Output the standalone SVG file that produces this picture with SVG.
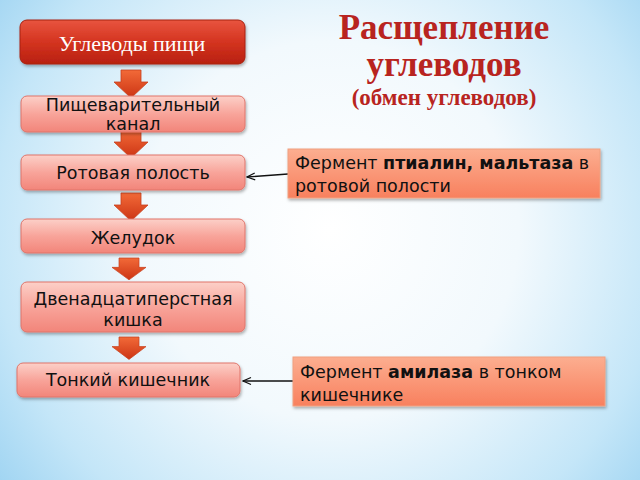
<svg xmlns="http://www.w3.org/2000/svg" width="640" height="480" viewBox="0 0 640 480">
<defs>
<radialGradient id="bg" cx="330" cy="230" r="420" gradientUnits="userSpaceOnUse">
<stop offset="0" stop-color="#ffffff"/>
<stop offset="0.45" stop-color="#f2f9fd"/>
<stop offset="0.8" stop-color="#c4e6f8"/>
<stop offset="1" stop-color="#9fd4f2"/>
</radialGradient>
<linearGradient id="gTop" x1="0" y1="0" x2="0" y2="1">
<stop offset="0" stop-color="#e8553f"/>
<stop offset="0.5" stop-color="#d43420"/>
<stop offset="1" stop-color="#b82010"/>
</linearGradient>
<linearGradient id="gPink" x1="0" y1="0" x2="0" y2="1">
<stop offset="0" stop-color="#fcd0c8"/>
<stop offset="0.5" stop-color="#f8a49a"/>
<stop offset="1" stop-color="#f2857a"/>
</linearGradient>
<linearGradient id="gEnz" x1="0" y1="0" x2="0" y2="1">
<stop offset="0" stop-color="#fcae90"/>
<stop offset="1" stop-color="#f8805e"/>
</linearGradient>
<linearGradient id="gArr" x1="0" y1="0" x2="0" y2="1">
<stop offset="0" stop-color="#f26a38"/>
<stop offset="1" stop-color="#cc3414"/>
</linearGradient>
<filter id="sh" x="-10%" y="-20%" width="120%" height="150%">
<feDropShadow dx="1" dy="2" stdDeviation="1.5" flood-color="#000" flood-opacity="0.3"/>
</filter>
<marker id="open" markerWidth="10" markerHeight="10" refX="9" refY="5" orient="auto" markerUnits="userSpaceOnUse">
<path d="M1,1.5 L9,5 L1,8.5" fill="none" stroke="#111" stroke-width="1.2"/>
</marker>
<path id="darr" d="M-10,0 H10 V12 H17 L0,28 L-17,12 H-10 Z"/>
<style>
.pink{fill:url(#gPink);stroke:#e0746a;stroke-width:1;filter:url(#sh)}
.enz{fill:url(#gEnz);stroke:#f0a080;stroke-width:1;filter:url(#sh)}
.t{font-family:"DejaVu Sans",sans-serif;font-size:17.5px;fill:#111;text-anchor:middle}
.e{font-family:"DejaVu Sans",sans-serif;font-size:17.5px;fill:#111}
.arr{fill:url(#gArr);stroke:#c8401c;stroke-width:0.8}
.ttl{font-family:"Liberation Serif","DejaVu Serif",serif;font-weight:bold;fill:#b82420;text-anchor:middle}
</style>
</defs>
<rect width="640" height="480" fill="url(#bg)"/>

<g id="title">
<text class="ttl" x="444" y="39" font-size="35">Расщепление</text>
<text class="ttl" x="444" y="76" font-size="35">углеводов</text>
<text class="ttl" x="444" y="105" font-size="23">(обмен углеводов)</text>
</g>

<g id="connectors">
<use href="#darr" class="arr" transform="translate(131,70)"/>
<use href="#darr" class="arr" transform="translate(131,130)"/>
<use href="#darr" class="arr" transform="translate(131,193)"/>
<use href="#darr" class="arr" transform="translate(129,258) scale(1,0.78)"/>
<use href="#darr" class="arr" transform="translate(129,337) scale(1,0.8)"/>
<line x1="288" y1="174" x2="247" y2="177" stroke="#111" stroke-width="1.3" marker-end="url(#open)"/>
<line x1="293" y1="381" x2="243" y2="381" stroke="#111" stroke-width="1.3" marker-end="url(#open)"/>
</g>

<g id="n1">
<rect x="20" y="20" width="225" height="44" rx="7" fill="url(#gTop)" stroke="#a82010" stroke-width="1" filter="url(#sh)"/>
<text x="132" y="51" font-family="Liberation Serif,'DejaVu Serif',serif" font-size="22" fill="#fff" text-anchor="middle">Углеводы пищи</text>
</g>
<g id="n2">
<rect class="pink" x="21" y="96" width="224" height="36" rx="6"/>
<text class="t" x="133" y="111">Пищеварительный</text>
<text class="t" x="133" y="130">канал</text>
</g>
<g id="n3">
<rect class="pink" x="21" y="155" width="224" height="35" rx="6"/>
<text class="t" x="133" y="179">Ротовая полость</text>
</g>
<g id="n4">
<rect class="pink" x="21" y="219" width="224" height="34" rx="6"/>
<text class="t" x="133" y="244">Желудок</text>
</g>
<g id="n5">
<rect class="pink" x="21" y="282" width="224" height="50" rx="6"/>
<text class="t" x="133" y="305">Двенадцатиперстная</text>
<text class="t" x="133" y="326">кишка</text>
</g>
<g id="n6">
<rect class="pink" x="17" y="363" width="223" height="34" rx="6"/>
<text class="t" x="128" y="386">Тонкий кишечник</text>
</g>
<g id="e1">
<rect class="enz" x="288" y="149" width="312" height="49"/>
<text class="e" x="295" y="169">Фермент <tspan font-weight="bold">птиалин, мальтаза</tspan> в</text>
<text class="e" x="295" y="192">ротовой полости</text>
</g>
<g id="e2">
<rect class="enz" x="293" y="357" width="312" height="49"/>
<text class="e" x="300" y="378">Фермент <tspan font-weight="bold">амилаза</tspan> в тонком</text>
<text class="e" x="300" y="401">кишечнике</text>
</g>
</svg>
